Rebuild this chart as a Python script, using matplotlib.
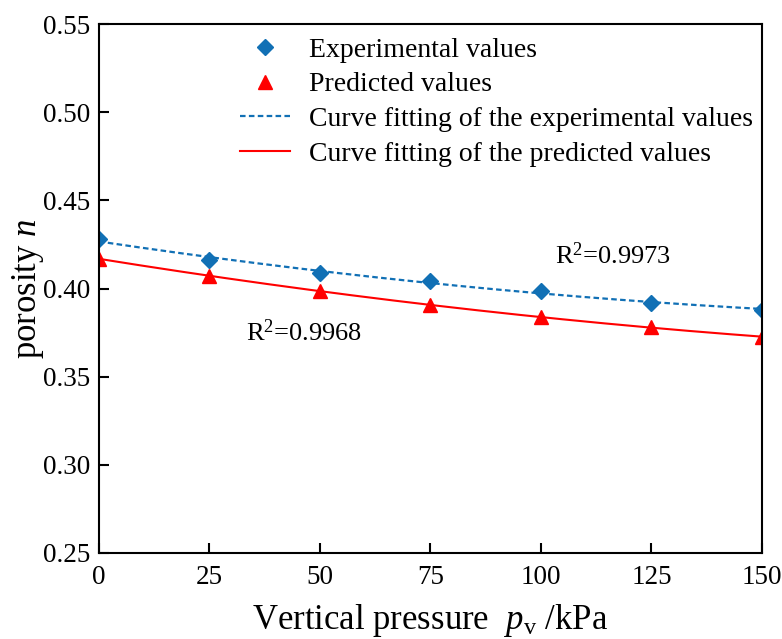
import numpy as np
import matplotlib
matplotlib.use("Agg")
import matplotlib.pyplot as plt

plt.rcParams['font.family'] = ['Liberation Serif', 'DejaVu Serif']
plt.rcParams['mathtext.fontset'] = 'custom'
plt.rcParams['mathtext.rm'] = 'Liberation Serif'
plt.rcParams['mathtext.it'] = 'Liberation Serif:italic'

# data
pressure = [0, 25, 50, 75, 100, 125, 150]
experimental = [0.428, 0.416, 0.409, 0.404, 0.3985, 0.392, 0.388]
predicted = [0.417, 0.407, 0.3985, 0.3905, 0.384, 0.378, 0.3725]
r2_exp = "0.9973"
r2_pred = "0.9968"

blue = '#1170B5'
red = '#FF0000'

# quadratic fits computed from the points
px = np.linspace(0, 150, 300)
fit_exp = np.polyval(np.polyfit(pressure, experimental, 2), px)
fit_pred = np.polyval(np.polyfit(pressure, predicted, 2), px)

fig = plt.figure(figsize=(7.82, 6.39), dpi=100)
ax = fig.add_axes([0.1266, 0.1346, 0.8478, 0.8278])

ax.plot(pressure, experimental, linestyle='none', marker='D', markersize=8,
        color=blue, label='Experimental values')
ax.plot(pressure, predicted, linestyle='none', marker='^', markersize=10,
        color=red, label='Predicted values')
ax.plot(px, fit_exp, linestyle=(0, (2.5, 1.5)), linewidth=1.6, color=blue,
        label='Curve fitting of the experimental values')
ax.plot(px, fit_pred, linestyle='-', linewidth=1.5, color=red,
        label='Curve fitting of the predicted values')

ax.text(0.688, 0.563, 'R$^2$=' + r2_exp, transform=ax.transAxes, fontsize=19,
        ha='left', va='center')
ax.text(0.222, 0.417, 'R$^2$=' + r2_pred, transform=ax.transAxes, fontsize=19,
        ha='left', va='center')

ax.set_xlim(0, 150)
ax.set_ylim(0.25, 0.55)
ax.set_xticks(pressure)
ax.set_yticks(np.arange(0.25, 0.551, 0.05))
ax.yaxis.set_major_formatter(matplotlib.ticker.FormatStrFormatter('%.2f'))
ax.tick_params(direction='in', length=7, width=1.5, labelsize=19.5)
ax.tick_params(axis='x', pad=9)
ax.tick_params(axis='y', pad=6)
for s in ax.spines.values():
    s.set_linewidth(1.5)

ax.set_xlabel(r'Vertical pressure  $p_\mathrm{v}$ /kPa', fontsize=25, labelpad=8)
ax.set_ylabel(r'porosity $n$', fontsize=25, labelpad=-2)

ax.legend(loc='upper left', bbox_to_anchor=(0.212, 0.975), frameon=False,
          fontsize=20, handlelength=1.8, handletextpad=0.7, labelspacing=0.33,
          borderpad=0, borderaxespad=0)

fig.savefig('out.png', dpi=100)
